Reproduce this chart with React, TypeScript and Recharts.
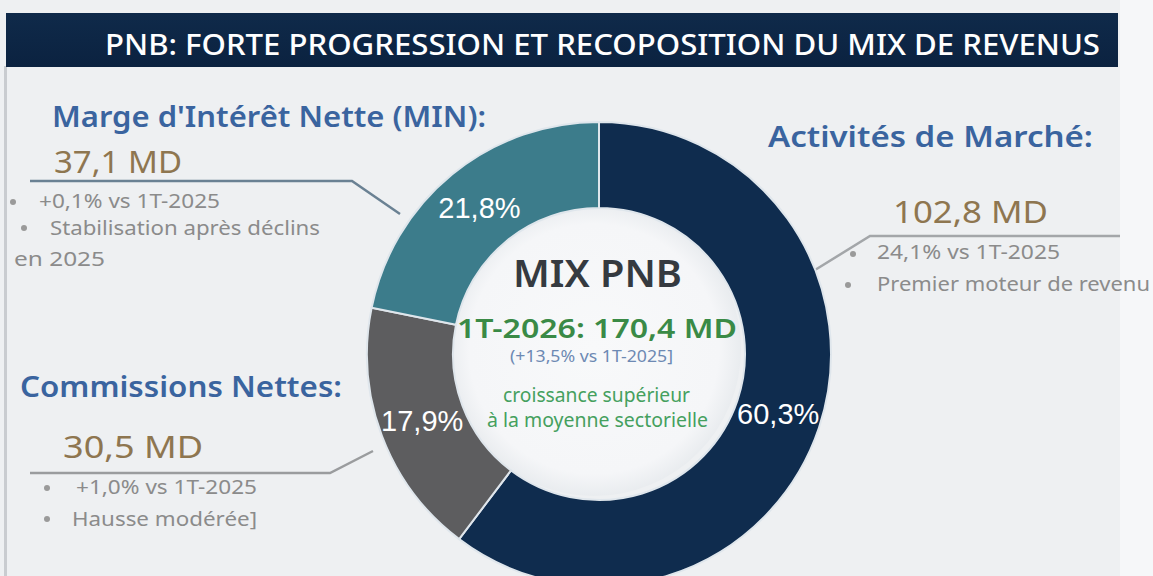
import React from "react";
import { PieChart, Pie, Cell } from "recharts";

// ---- data ----
const categories = ["Activités de Marché", "Commissions Nettes", "Marge d'Intérêt Nette"];
const shares = [60.3, 17.9, 21.8];
const sliceColors = ["#0f2c4e", "#5d5d5f", "#3c7c8b"];

const titleText = "PNB: FORTE PROGRESSION ET RECOPOSITION DU MIX DE REVENUS";
const headings = ["Activités de Marché:", "Commissions Nettes:", "Marge d'Intérêt Nette (MIN):"];
const amounts = ["102,8 MD", "30,5 MD", "37,1 MD"];
const bulletsMarche = ["24,1% vs 1T-2025", "Premier moteur de revenu"];
const bulletsCommissions = ["+1,0% vs 1T-2025", "Hausse modérée]"];
const bulletsMIN = ["+0,1% vs 1T-2025", "Stabilisation après déclins", "en 2025"];
const centerTitle = "MIX PNB";
const centerTotal = "1T-2026: 170,4 MD";
const centerGrowth = "(+13,5% vs 1T-2025]";
const centerNote = ["croissance supérieur", "à la moyenne sectorielle"];

const pieData = categories.map((name, i) => ({ name, value: shares[i] }));

const W = 1153;
const H = 576;
const FONT = "'Noto Sans', 'DejaVu Sans', sans-serif";

const RAD = Math.PI / 180;
const renderLabel = (p: any) => {
  const r = (p.innerRadius + p.outerRadius) / 2;
  const x = p.cx + r * Math.cos(-p.midAngle * RAD);
  const y = p.cy + r * Math.sin(-p.midAngle * RAD);
  const txt = Number(p.value).toFixed(1).replace(".", ",") + "%";
  return (
    <text
      x={x}
      y={y}
      fill="#ffffff"
      textAnchor="middle"
      dominantBaseline="central"
      fontFamily="'Liberation Sans', Arial, sans-serif"
      fontSize={29}
    >
      {txt}
    </text>
  );
};

const T = (props: any) => {
  const { x, y, len, size, color, weight, children, anchor } = props;
  return (
    <text
      x={x}
      y={y}
      fontFamily={FONT}
      fontSize={size}
      fill={color}
      fontWeight={weight || 400}
      textAnchor={anchor || "start"}
      textLength={len}
      lengthAdjust="spacingAndGlyphs"
    >
      {children}
    </text>
  );
};

const BLUE = "#3a649f";
const GOLD = "#8e7650";
const GREYTXT = "#8b8b8b";
const DOT = "#9a9a9a";

export default function App() {
  return (
    <div
      style={{
        position: "absolute",
        left: 0,
        top: 0,
        width: W,
        height: H,
        background: "#eff1f3",
        overflow: "hidden",
      }}
    >
      {/* background decorations */}
      <svg width={W} height={H} style={{ position: "absolute", left: 0, top: 0 }}>
        <defs>
          <linearGradient id="bar" x1="0" y1="0" x2="0" y2="1">
            <stop offset="0" stopColor="#0f2a4a" />
            <stop offset="1" stopColor="#0b2240" />
          </linearGradient>
          <radialGradient id="hole" cx="0.5" cy="0.5" r="0.5">
            <stop offset="0" stopColor="#f8f9fa" />
            <stop offset="0.85" stopColor="#f5f6f8" />
            <stop offset="1" stopColor="#e9ecef" />
          </radialGradient>
        </defs>
        <rect x={0} y={0} width={W} height={H} fill="#eef0f2" />
        <rect x={1120} y={0} width={33} height={H} fill="#f6f7f9" />
        <rect x={4} y={66} width={3} height={H - 66} fill="#c9ccd0" />
        <rect x={6} y={13} width={1112} height={54} fill="url(#bar)" />
        <circle cx={594} cy={349} r={147} fill="url(#hole)" />
        <polyline points="30,181 352,181 400,214" fill="none" stroke="#6a8193" strokeWidth={2.5} />
        <polyline points="1120,236 870,236 815,270" fill="none" stroke="#a3a6a9" strokeWidth={2.5} />
        <polyline points="30,473 330,473 373,451" fill="none" stroke="#9a9c9e" strokeWidth={2.5} />
      </svg>

      {/* donut */}
      <div style={{ position: "absolute", left: 0, top: 0 }}>
        <PieChart width={W} height={H}>
          <Pie
            data={pieData}
            dataKey="value"
            nameKey="name"
            cx={594}
            cy={349}
            innerRadius={146}
            outerRadius={232}
            startAngle={90}
            endAngle={-270}
            stroke="#dfe6ec"
            strokeWidth={2}
            label={renderLabel}
            labelLine={false}
            isAnimationActive={false}
          >
            {pieData.map((d, i) => (
              <Cell key={d.name} fill={sliceColors[i]} />
            ))}
          </Pie>
        </PieChart>
      </div>

      {/* text overlay */}
      <svg width={W} height={H} style={{ position: "absolute", left: 0, top: 0, pointerEvents: "none" }}>
        <T x={105} y={55} len={995} size={28} color="#ffffff" weight={500}>
          {titleText}
        </T>

        {/* MIN (top-left) */}
        <T x={52} y={127} len={434} size={29} color={BLUE} weight={600}>
          {headings[2]}
        </T>
        <T x={54} y={173} len={128} size={31} color={GOLD}>
          {amounts[2]}
        </T>
        <circle cx={13} cy={202} r={3} fill={DOT} />
        <T x={39} y={208} len={181} size={20} color={GREYTXT}>
          {bulletsMIN[0]}
        </T>
        <circle cx={24} cy={228} r={3} fill={DOT} />
        <T x={50} y={235} len={270} size={20} color={GREYTXT}>
          {bulletsMIN[1]}
        </T>
        <T x={14} y={266} len={91} size={20} color={GREYTXT}>
          {bulletsMIN[2]}
        </T>

        {/* Marché (right) */}
        <T x={768} y={147} len={325} size={29} color={BLUE} weight={600}>
          {headings[0]}
        </T>
        <T x={893} y={223} len={155} size={31} color={GOLD}>
          {amounts[0]}
        </T>
        <circle cx={853} cy={254} r={3} fill={DOT} />
        <T x={877} y={259} len={183} size={20} color={GREYTXT}>
          {bulletsMarche[0]}
        </T>
        <circle cx={848} cy={285} r={3} fill={DOT} />
        <T x={877} y={291} len={273} size={20} color={GREYTXT}>
          {bulletsMarche[1]}
        </T>

        {/* Commissions (bottom-left) */}
        <T x={20} y={397} len={322} size={29} color={BLUE} weight={600}>
          {headings[1]}
        </T>
        <T x={63} y={458} len={140} size={31} color={GOLD}>
          {amounts[1]}
        </T>
        <circle cx={47} cy={488} r={3} fill={DOT} />
        <T x={76} y={494} len={181} size={20} color={GREYTXT}>
          {bulletsCommissions[0]}
        </T>
        <circle cx={47} cy={519} r={3} fill={DOT} />
        <T x={72} y={526} len={185} size={20} color={GREYTXT}>
          {bulletsCommissions[1]}
        </T>

        {/* centre */}
        <T x={513} y={287} len={169} size={37} color="#353a40" weight={600}>
          {centerTitle}
        </T>
        <T x={457} y={338} len={280} size={27} color="#3a8a46" weight={600}>
          {centerTotal}
        </T>
        <T x={510} y={362} len={163} size={16} color="#6d89b3">
          {centerGrowth}
        </T>
        <T x={503} y={402} len={187} size={19} color="#45a05e">
          {centerNote[0]}
        </T>
        <T x={487} y={427} len={221} size={19} color="#45a05e">
          {centerNote[1]}
        </T>
      </svg>
    </div>
  );
}
